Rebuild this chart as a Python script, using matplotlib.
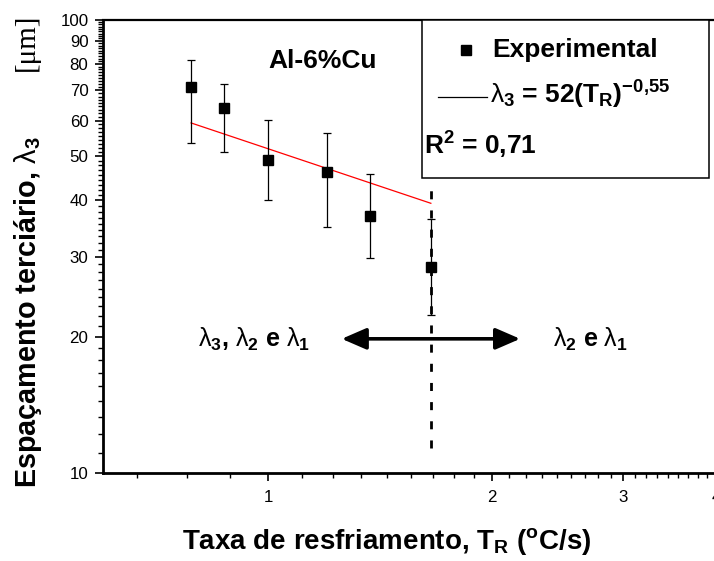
import numpy as np
import matplotlib
matplotlib.use("Agg")
import matplotlib.pyplot as plt
from matplotlib.patches import Rectangle
from matplotlib.lines import Line2D
from matplotlib.ticker import FixedLocator, NullFormatter

plt.rcParams["font.family"] = ["Liberation Sans", "DejaVu Sans"]
plt.rcParams["mathtext.fontset"] = "custom"
plt.rcParams["mathtext.rm"] = "Liberation Sans"
plt.rcParams["mathtext.bf"] = "Liberation Sans:bold"
plt.rcParams["mathtext.it"] = "Liberation Sans:italic"

# cooling rate (oC/s) and tertiary arm spacing (um), with error bar ends
cooling_rate = [0.788, 0.873, 1.0, 1.2, 1.37, 1.655]
spacing = [71.0, 63.8, 49.1, 46.3, 37.0, 28.5]
spacing_high = [81.6, 72.4, 60.2, 56.2, 45.7, 36.3]
spacing_low = [53.6, 51.2, 40.0, 34.9, 29.8, 22.3]

# fitted power law lambda3 = 52 * TR^-0.55
fit_coef = 52.0
fit_exp = -0.55
r_squared = "0,71"

x_ticks = [1, 2, 3, 4]
y_ticks = [10, 20, 30, 40, 50, 60, 70, 80, 90, 100]

W, H = 714, 561


def fx(px):
    return px / W


def fy(py):
    return 1 - py / H


fig = plt.figure(figsize=(W / 100, H / 100), dpi=100)
ax = fig.add_axes([fx(103), fy(473.3), fx(716) - fx(103), fy(20) - fy(473.3)])

ax.set_xscale("log")
ax.set_yscale("log")
ax.set_xlim(0.6, 4)
ax.set_ylim(10, 100)

y = np.array(spacing)
yerr = [y - np.array(spacing_low), np.array(spacing_high) - y]
ax.errorbar(cooling_rate, spacing, yerr=yerr, fmt="s", color="black",
            markersize=6.8, elinewidth=0.9, capsize=2.6, capthick=0.9, zorder=3)

fit_x = np.array([cooling_rate[0], cooling_rate[-1]])
ax.plot(fit_x, fit_coef * fit_x ** fit_exp, color="red", lw=0.9, zorder=2)

# boundary between the two regions
ax.plot([cooling_rate[-1], cooling_rate[-1]], [11.4, 43.9], color="black",
        lw=2.0, linestyle=(0, (2.9, 4.0)), zorder=2)

ax.annotate("", xy=(1.256, 19.8), xytext=(2.182, 19.8),
            arrowprops=dict(arrowstyle="<|-|>,head_length=1.5,head_width=0.65",
                            color="black", lw=2.6, shrinkA=0, shrinkB=0))

# ticks
ax.xaxis.set_major_locator(FixedLocator(x_ticks))
ax.set_xticklabels([str(t) for t in x_ticks])
x_minor = [n + k / 9 for n in range(0, 4) for k in range(1, 9)]
ax.xaxis.set_minor_locator(FixedLocator(x_minor))
ax.xaxis.set_minor_formatter(NullFormatter())

ax.yaxis.set_major_locator(FixedLocator(y_ticks))
ax.set_yticklabels([str(t) for t in y_ticks])
y_minor = [10 * n + 10 * k / 9 for n in range(1, 10) for k in range(1, 9)]
ax.yaxis.set_minor_locator(FixedLocator(y_minor))
ax.yaxis.set_minor_formatter(NullFormatter())

ax.tick_params(which="major", direction="out", length=6, width=1.2,
               labelsize=12.2, pad=4.5)
ax.tick_params(which="minor", direction="out", length=3.5, width=1.0)
ax.tick_params(axis="x", which="major", pad=6)
ax.tick_params(top=False, right=False, which="both")
for side in ["left", "bottom"]:
    ax.spines[side].set_linewidth(2.0)
ax.spines["top"].set_linewidth(1.6)
ax.spines["right"].set_linewidth(1.6)

# axis titles
fig.text(fx(28), fy(488), r"Espaçamento terciário, $\mathrm{\lambda}_\mathbf{3}$",
         rotation=90, ha="center", va="bottom", fontsize=20.7, fontweight="bold")
fig.text(fx(27), fy(14), "[μm]", rotation=90, ha="center", va="top",
         fontsize=21, family="Liberation Serif")
fig.text(fx(387), fy(549), r"Taxa de resfriamento, T$_\mathbf{R}$ ($^\mathbf{o}$C/s)",
         ha="center", va="baseline", fontsize=20, fontweight="bold")

fig.text(fx(268), fy(68), "Al-6%Cu", ha="left", va="baseline",
         fontsize=19, fontweight="bold")

fig.text(fx(310), fy(347),
         r"$\mathrm{\lambda}_\mathbf{3}$, $\mathrm{\lambda}_\mathbf{2}$ e $\mathrm{\lambda}_\mathbf{1}$",
         ha="right", va="baseline", fontsize=18, fontweight="bold")
fig.text(fx(553), fy(347), r"$\mathrm{\lambda}_\mathbf{2}$ e $\mathrm{\lambda}_\mathbf{1}$",
         ha="left", va="baseline", fontsize=18, fontweight="bold")

# legend box
box = Rectangle((fx(421.7), fy(178)), fx(709.3) - fx(421.7), fy(20) - fy(178),
                transform=fig.transFigure, fill=True, facecolor="white",
                edgecolor="black", lw=1.1, zorder=5)
fig.add_artist(box)
fig.add_artist(Line2D([fx(466)], [fy(50)], marker="s", markersize=6.8, color="black",
                      linestyle="none", transform=fig.transFigure, zorder=6))
fig.text(fx(492.7), fy(50), "Experimental", ha="left", va="center",
         fontsize=19, fontweight="bold", zorder=6)
fig.add_artist(Line2D([fx(438), fx(486.7)], [fy(97.3), fy(97.3)], color="black",
                      lw=0.9, transform=fig.transFigure, zorder=6))
exp_text = str(fit_exp).replace(".", "{,}")
fig.text(fx(490), fy(104),
         r"$\mathrm{\lambda}_\mathbf{3}$ = %g(T$_\mathbf{R}$)$^\mathbf{%s}$"
         % (fit_coef, exp_text),
         ha="left", va="baseline", fontsize=19, fontweight="bold", zorder=6)
fig.text(fx(424), fy(155), r"R$^\mathbf{2}$ = " + r_squared, ha="left", va="baseline",
         fontsize=19, fontweight="bold", zorder=6)

fig.savefig("out.png", dpi=100)
